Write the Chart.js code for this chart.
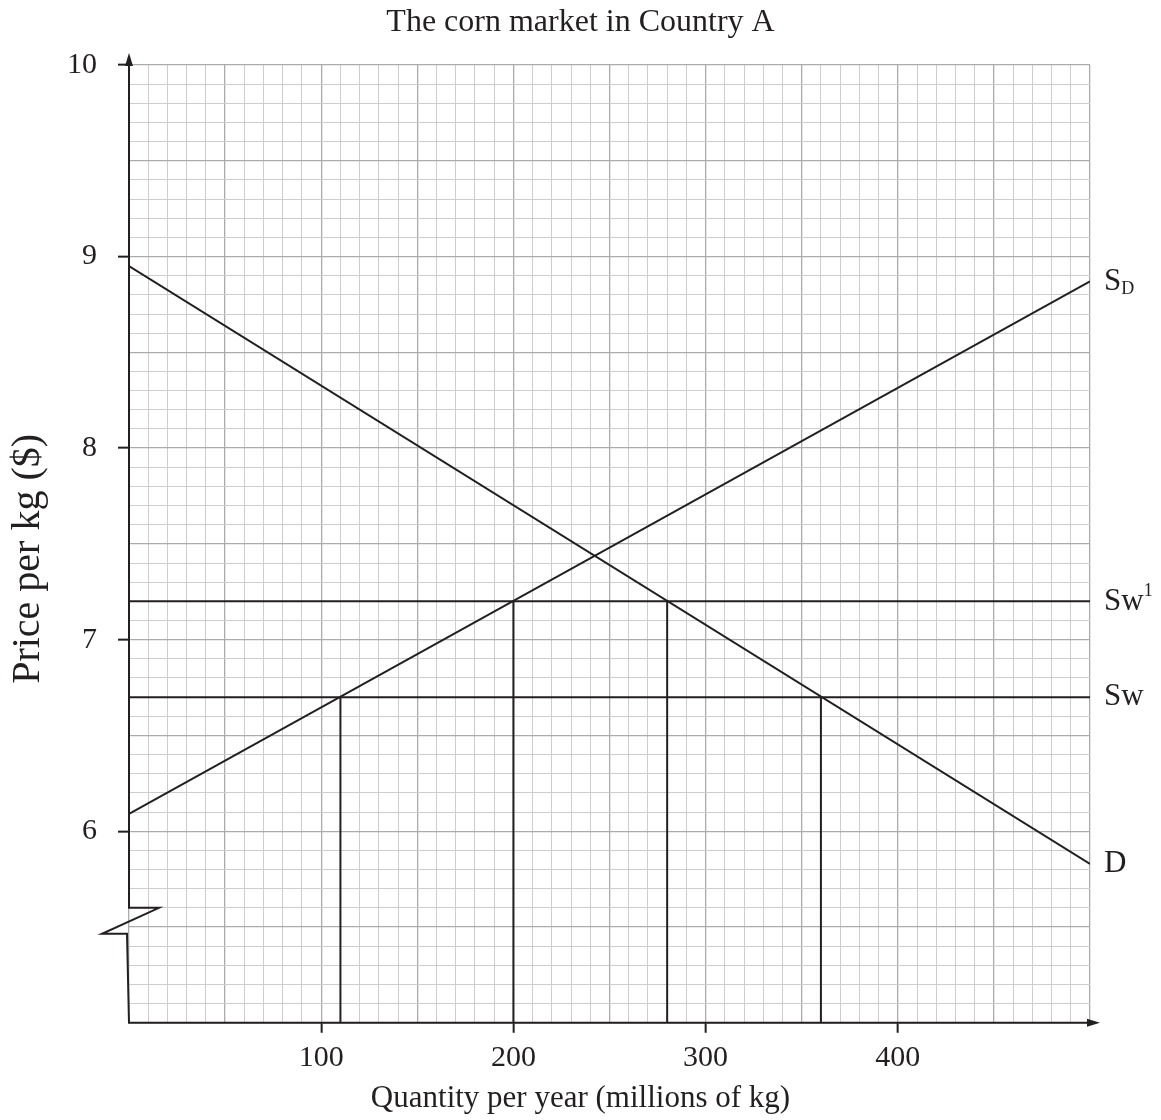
<!DOCTYPE html>
<html>
<head>
<meta charset="utf-8">
<title>The corn market in Country A</title>
<script src="https://cdn.jsdelivr.net/npm/chart.js@4.4.1/dist/chart.umd.min.js"></script>
<style>
  body { margin: 0; background: #fff; }
</style>
</head>
<body>
<canvas id="cornChart" width="1161" height="1120"></canvas>
<script>
// Chart values
const demandQty = [0, 500];
const demandPrice = [8.95, 5.83];
const supplyQty = [0, 500];
const supplyPrice = [6.09, 8.87];
const worldQty = [0, 500];
const worldPrice = 6.7;       // Sw
const worldPriceTariff = 7.2; // Sw1
const dropQty = [110, 200, 280, 360];
const dropPrice = [6.7, 7.2, 7.2, 6.7];
const xTickLabels = [100, 200, 300, 400];
const yTickLabels = [6, 7, 8, 9, 10];
const xRange = [0, 500];
const yRange = [5, 10];
const axisBreakAt = 5.6;
const yAxisTitle = "Price per kg ($)";

const ink = "#231f20";
const serif = "'Liberation Serif', 'Times New Roman', serif";

const toPoints = (xs, ys) => xs.map((x, i) => ({ x: x, y: ys[i] }));

const lineStyle = {
  borderColor: ink,
  borderWidth: 2,
  pointRadius: 0,
  fill: false,
  tension: 0,
};

const datasets = [
  { label: "D", data: toPoints(demandQty, demandPrice), ...lineStyle, tag: "D" },
  { label: "SD", data: toPoints(supplyQty, supplyPrice), ...lineStyle, tag: "SD" },
  { label: "Sw1", data: toPoints(worldQty, [worldPriceTariff, worldPriceTariff]), ...lineStyle, tag: "Sw1" },
  { label: "Sw", data: toPoints(worldQty, [worldPrice, worldPrice]), ...lineStyle, tag: "Sw" },
];

// vertical drop lines from the axis up to each intersection
dropQty.forEach((q, i) => {
  datasets.push({ label: "drop" + q, data: toPoints([q, q], [yRange[0], dropPrice[i]]), ...lineStyle });
});

// Axis lines with arrows, the broken price axis and its title
const axesPlugin = {
  id: "axesPlugin",
  afterDraw(chart) {
    const { ctx, scales, chartArea } = chart;
    const xs = scales.x, ys = scales.y;
    const x0 = xs.getPixelForValue(xRange[0]);
    const yb = ys.getPixelForValue(yRange[0]);
    const yBreak = ys.getPixelForValue(axisBreakAt);
    const yTop = ys.getPixelForValue(yRange[1]) - 12;
    const xEnd = xs.getPixelForValue(xRange[1]) + 10;

    ctx.save();
    ctx.strokeStyle = ink;
    ctx.fillStyle = ink;
    ctx.lineWidth = 2;
    ctx.lineJoin = "miter";

    ctx.beginPath();
    ctx.moveTo(x0, yTop + 8);
    ctx.lineTo(x0, yBreak);
    ctx.lineTo(x0 + 30, yBreak);
    ctx.lineTo(x0 - 27, yBreak + 26);
    ctx.lineTo(x0 - 2, yBreak + 26);
    ctx.lineTo(x0, yb);
    ctx.lineTo(xEnd - 8, yb);
    ctx.stroke();

    // arrow heads
    ctx.beginPath();
    ctx.moveTo(x0, yTop);
    ctx.lineTo(x0 - 4, yTop + 13);
    ctx.lineTo(x0 + 4, yTop + 13);
    ctx.closePath();
    ctx.fill();

    ctx.beginPath();
    ctx.moveTo(xEnd, yb);
    ctx.lineTo(xEnd - 13, yb - 4);
    ctx.lineTo(xEnd - 13, yb + 4);
    ctx.closePath();
    ctx.fill();

    // y axis title, rotated
    ctx.translate(28, (chartArea.top + chartArea.bottom) / 2 + 15);
    ctx.rotate(-Math.PI / 2);
    ctx.font = "40px " + serif;
    ctx.textAlign = "center";
    ctx.textBaseline = "middle";
    ctx.fillText(yAxisTitle, 0, 0);
    ctx.restore();
  },
};

// Curve names at the right end of each line
const curveLabels = {
  id: "curveLabels",
  afterDatasetsDraw(chart) {
    const { ctx, scales } = chart;
    ctx.save();
    ctx.fillStyle = ink;
    ctx.textBaseline = "middle";
    ctx.textAlign = "left";
    chart.data.datasets.forEach((ds) => {
      if (!ds.tag) return;
      const last = ds.data[ds.data.length - 1];
      const px = scales.x.getPixelForValue(last.x) + 14;
      const py = scales.y.getPixelForValue(last.y);
      ctx.font = "31px " + serif;
      let main = ds.tag, sub = "", sup = "";
      if (ds.tag === "SD") { main = "S"; sub = "D"; }
      if (ds.tag === "Sw1") { main = "Sw"; sup = "1"; }
      ctx.fillText(main, px, py);
      const w = ctx.measureText(main).width;
      ctx.font = "18px " + serif;
      if (sub) ctx.fillText(sub, px + w, py + 8);
      if (sup) ctx.fillText(sup, px + w, py - 10);
    });
    ctx.restore();
  },
};

const isMajorX = (v) => Math.round(v) % 50 === 0;
const isMajorY = (v) => Math.round(v * 10) % 5 === 0;

new Chart(document.getElementById("cornChart"), {
  type: "line",
  data: { datasets: datasets },
  options: {
    responsive: false,
    animation: false,
    events: [],
    layout: { padding: 0 },
    plugins: {
      legend: { display: false },
      tooltip: { enabled: false },
      title: {
        display: true,
        text: "The corn market in Country A",
        color: ink,
        font: { family: serif, size: 32, weight: "normal" },
        padding: { top: 3, bottom: 23.6 },
      },
      subtitle: {
        display: true,
        position: "bottom",
        text: "Quantity per year (millions of kg)",
        color: ink,
        font: { family: serif, size: 31, weight: "normal" },
        padding: { top: 0, bottom: 3 },
      },
    },
    scales: {
      x: {
        type: "linear",
        min: xRange[0],
        max: xRange[1],
        afterFit: (s) => { s.height = 57; },
        border: { display: false },
        grid: {
          color: (c) => (isMajorX(c.tick.value) ? "#ababab" : "#cdcdcd"),
          lineWidth: (c) => (isMajorX(c.tick.value) ? 1.3 : 1),
          borderDash: (c) => (isMajorX(c.tick.value) ? [5, 3] : [3, 3]),
          tickLength: 10,
          tickWidth: 2,
          tickBorderDash: [],
          tickColor: (c) => (xTickLabels.includes(Math.round(c.tick.value)) ? ink : "rgba(0,0,0,0)"),
        },
        ticks: {
          stepSize: 10,
          autoSkip: false,
          maxRotation: 0,
          padding: 7,
          color: ink,
          font: { family: serif, size: 30 },
          callback: (v) => (xTickLabels.includes(Math.round(v)) ? String(Math.round(v)) : ""),
        },
      },
      y: {
        type: "linear",
        min: yRange[0],
        max: yRange[1],
        afterFit: (s) => { s.width = 129; },
        border: { display: false },
        grid: {
          color: (c) => (isMajorY(c.tick.value) ? "#ababab" : "#cdcdcd"),
          lineWidth: (c) => (isMajorY(c.tick.value) ? 1.3 : 1),
          borderDash: (c) => (isMajorY(c.tick.value) ? [5, 3] : [3, 3]),
          tickLength: 11,
          tickWidth: 2,
          tickBorderDash: [],
          tickColor: (c) => (yTickLabels.includes(Math.round(c.tick.value * 10) / 10) ? ink : "rgba(0,0,0,0)"),
        },
        ticks: {
          stepSize: 0.1,
          autoSkip: false,
          padding: 21,
          color: ink,
          font: { family: serif, size: 30 },
          callback: (v) => {
            const r = Math.round(v * 10) / 10;
            return yTickLabels.includes(r) ? String(r) : "";
          },
        },
      },
      yRight: {
        type: "linear",
        position: "right",
        min: yRange[0],
        max: yRange[1],
        afterFit: (s) => { s.width = 71; },
        border: { display: false },
        grid: { display: false },
        ticks: { display: false },
      },
    },
  },
  plugins: [axesPlugin, curveLabels],
});
</script>
</body>
</html>
